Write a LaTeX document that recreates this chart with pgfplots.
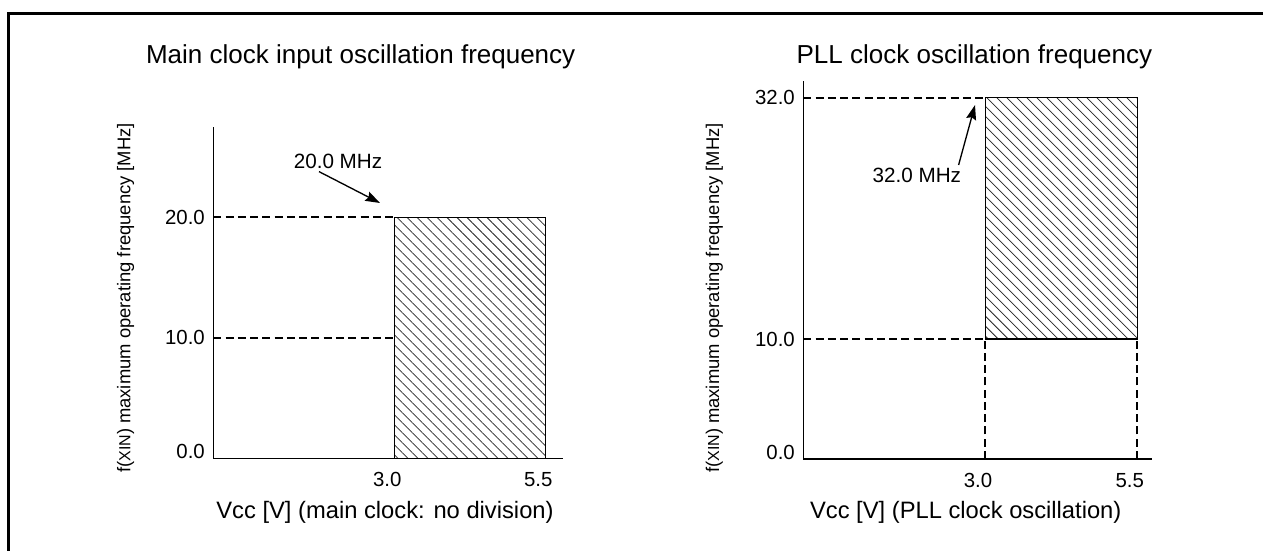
\documentclass[border=0pt]{standalone}
\usepackage{pgfplots}
\pgfplotsset{compat=1.18}
\usepackage{fontspec}
\setmainfont{Liberation Sans}
\usetikzlibrary{patterns.meta,arrows.meta}
\begin{document}
\begin{tikzpicture}
\useasboundingbox (0,0) rectangle (947.25pt,-412.5pt);
% frame
\draw[line width=2.25pt] (6.375pt,-420pt) -- (6.375pt,-9.75pt) -- (950pt,-9.75pt);
\pgfplotsset{
  myaxis/.style={
    scale only axis, clip=false,
    axis lines=left, axis line style={-, line width=0.9pt},
    xmin=0,
    tick style={draw=none}, major tick length=0pt,
    xtick={3,5.5}, xticklabels={3.0,5.5},
    ticklabel style={font=\fontsize{15.3pt}{18pt}\selectfont, inner sep=0pt},
    xticklabel style={anchor=north, yshift=-10.5pt, xshift=-5.6pt},
    yticklabel style={anchor=east, xshift=-6.2pt},
  },
  dashedline/.style={black, line width=1.6pt, dash pattern=on 6pt off 3.2pt},
  hatch/.style={draw=black, line width=0.9pt, pattern={Lines[angle=-45,distance=5.3pt,line width=0.55pt]}, pattern color=black!85},
}
% Left axis
\begin{axis}[myaxis, at={(159.98pt,-343.73pt)}, anchor=south west,
  width=262.05pt, height=248.7pt,
  xmax=5.78, ymin=0, ymax=27.5,
  ytick={0,10,20}, yticklabels={\raisebox{10pt}{0.0},10.0,20.0}]
\addplot[dashedline] coordinates {(0,20) (3,20)};
\addplot[dashedline] coordinates {(0,10) (3,10)};
\addplot[hatch] coordinates {(3,0) (3,20) (5.5,20) (5.5,0)} -- cycle;
\end{axis}
% Right axis (non-linear upper section)
\begin{axis}[myaxis, at={(602.48pt,-344.25pt)}, anchor=south west,
  width=261.3pt, height=283.5pt,
  xmax=5.74, ymin=0, ymax=33.52,
  y coord trafo/.code={\pgfmathparse{(#1<=10) ? #1 : 10+(#1-10)*0.914}},
  ytick={0,10,32}, yticklabels={\raisebox{10pt}{0.0},10.0,32.0}]
\addplot[dashedline] coordinates {(0,32) (3,32)};
\addplot[dashedline] coordinates {(0,10) (3,10)};
\addplot[dashedline] coordinates {(3,0) (3,10)};
\addplot[dashedline] coordinates {(5.5,0) (5.5,10)};
\addplot[hatch] coordinates {(3,10) (3,32) (5.5,32) (5.5,10)} -- cycle;
\end{axis}
% titles
\node[anchor=base, font=\fontsize{19.5pt}{22pt}\selectfont] at (270.5pt,-47.25pt) {Main clock input oscillation frequency};
\node[anchor=base, font=\fontsize{19.5pt}{22pt}\selectfont] at (730.8pt,-47.25pt) {PLL clock oscillation frequency};
% x labels
\node[anchor=base, font=\fontsize{17.8pt}{20pt}\selectfont] at (288.75pt,-388.5pt) {Vcc [V] (main clock: no division)};
\node[anchor=base, font=\fontsize{17.8pt}{20pt}\selectfont] at (724.3pt,-388.5pt) {Vcc [V] (PLL clock oscillation)};
% y labels
\node[anchor=base, rotate=90, font=\fontsize{13.8pt}{16pt}\selectfont] at (97.7pt,-223.5pt) {f({\fontsize{12pt}{14pt}\selectfont XIN}) maximum operating frequency [MHz]};
\node[anchor=base, rotate=90, font=\fontsize{13.8pt}{16pt}\selectfont] at (539.25pt,-223.5pt) {f({\fontsize{12pt}{14pt}\selectfont XIN}) maximum operating frequency [MHz]};
% annotations
\node[anchor=base, font=\fontsize{15.5pt}{18pt}\selectfont] at (253.5pt,-126pt) {20.0 MHz};
\draw[line width=1pt, -{Stealth[length=11pt,width=7.5pt,inset=1.5pt]}] (239.25pt,-128.7pt) -- (285pt,-152.25pt);
\node[anchor=base, font=\fontsize{15.5pt}{18pt}\selectfont] at (687.6pt,-136.5pt) {32.0 MHz};
\draw[line width=1pt, -{Stealth[length=11pt,width=7.5pt,inset=1.5pt]}] (718.95pt,-123.75pt) -- (731.25pt,-78.75pt);
\end{tikzpicture}
\end{document}
